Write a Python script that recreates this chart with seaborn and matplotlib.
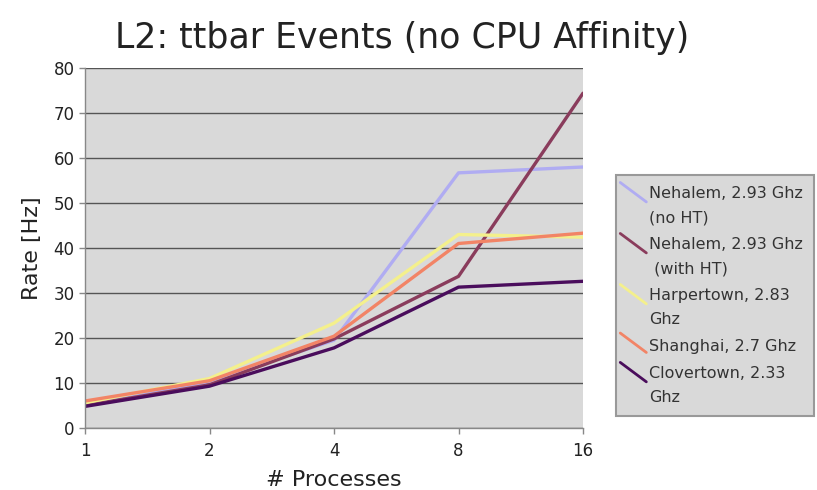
import matplotlib
matplotlib.use("Agg")
import matplotlib.pyplot as plt
import seaborn as sns
import pandas as pd
from matplotlib.lines import Line2D
from matplotlib.legend_handler import HandlerBase

processes = [1, 2, 4, 8, 16]
nehalem_noht = [5.6, 10.3, 19.5, 56.7, 58.0]
nehalem_ht = [5.0, 9.6, 19.8, 33.7, 74.4]
harpertown = [5.6, 11.0, 23.3, 43.0, 42.4]
shanghai = [6.0, 10.5, 20.4, 41.0, 43.3]
clovertown = [4.8, 9.3, 17.8, 31.3, 32.6]

series_names = [
    "Nehalem, 2.93 Ghz\n(no HT)",
    "Nehalem, 2.93 Ghz\n (with HT)",
    "Harpertown, 2.83\nGhz",
    "Shanghai, 2.7 Ghz",
    "Clovertown, 2.33\nGhz",
]
series_values = [nehalem_noht, nehalem_ht, harpertown, shanghai, clovertown]
colors = ["#b0acf2", "#8a3c5c", "#f4f08c", "#f28466", "#4a0d5c"]

rows = []
for name, vals in zip(series_names, series_values):
    for p, v in zip(processes, vals):
        rows.append({"Processes": p, "Rate": v, "Series": name})
df = pd.DataFrame(rows)

sns.set_style("ticks")
plt.rcParams["font.family"] = ["DejaVu Sans"]

fig = plt.figure(figsize=(8.17, 4.90), dpi=100)
ax = fig.add_axes([85 / 817, 1 - 428 / 490, (583 - 85) / 817, (428 - 68) / 490])
ax.set_facecolor("#d9d9d9")

palette = dict(zip(series_names, colors))
sns.lineplot(data=df, x="Processes", y="Rate", hue="Series", palette=palette,
             hue_order=series_names, linewidth=2.4, sort=False, ax=ax,
             legend=False, estimator=None)

ax.set_xscale("log", base=2)
ax.set_xlim(1, 16)
ax.set_xticks(processes)
ax.set_xticklabels([str(p) for p in processes])
ax.minorticks_off()
ax.set_ylim(0, 80)
ax.set_yticks(range(0, 81, 10))
ax.yaxis.grid(True, color="#555555", linewidth=1.0)
ax.xaxis.grid(False)
ax.set_axisbelow(True)
for s in ["top", "right"]:
    ax.spines[s].set_visible(False)
for s in ["left", "bottom"]:
    ax.spines[s].set_color("#888888")
    ax.spines[s].set_linewidth(1.0)
ax.tick_params(axis="both", colors="#888888", labelcolor="#222222",
               labelsize=12, length=4, width=1, direction="out")
ax.tick_params(axis="x", pad=6)
ax.set_xlabel("# Processes", fontsize=16, color="#222222", labelpad=7)
ax.set_ylabel("Rate [Hz]", fontsize=16, color="#222222", labelpad=8)

fig.text(402 / 817, 1 - 38 / 490, "L2: ttbar Events (no CPU Affinity)",
         fontsize=25, ha="center", va="center", color="#222222")


class DiagHandler(HandlerBase):
    def __init__(self, yoff=0.0):
        super().__init__()
        self.yoff = yoff

    def create_artists(self, legend, orig_handle, xdescent, ydescent, width,
                       height, fontsize, trans):
        yc = height / 2 + self.yoff
        line = Line2D([-5, width], [yc + 7, yc - 7],
                      color=orig_handle.get_color(), linewidth=2.0,
                      transform=trans)
        return [line]


handles = [Line2D([], [], color=c) for c in colors]
offsets = [10, 10, 10, 2, 10]
hmap = {h: DiagHandler(o) for h, o in zip(handles, offsets)}
leg = fig.legend(handles, series_names, handler_map=hmap,
                 loc="upper left", bbox_to_anchor=(616 / 817, 1 - 175 / 490),
                 frameon=True, fancybox=False, fontsize=11.5,
                 handlelength=1.2, handletextpad=0.15, labelspacing=0.75,
                 borderpad=0.7, borderaxespad=0)
leg.get_frame().set_facecolor("#d9d9d9")
leg.get_frame().set_edgecolor("#999999")
leg.get_frame().set_linewidth(1.5)
leg.get_frame().set_alpha(1)
for t in leg.get_texts():
    t.set_color("#333333")
    t.set_linespacing(1.75)

fig.savefig("out.png", dpi=100)
